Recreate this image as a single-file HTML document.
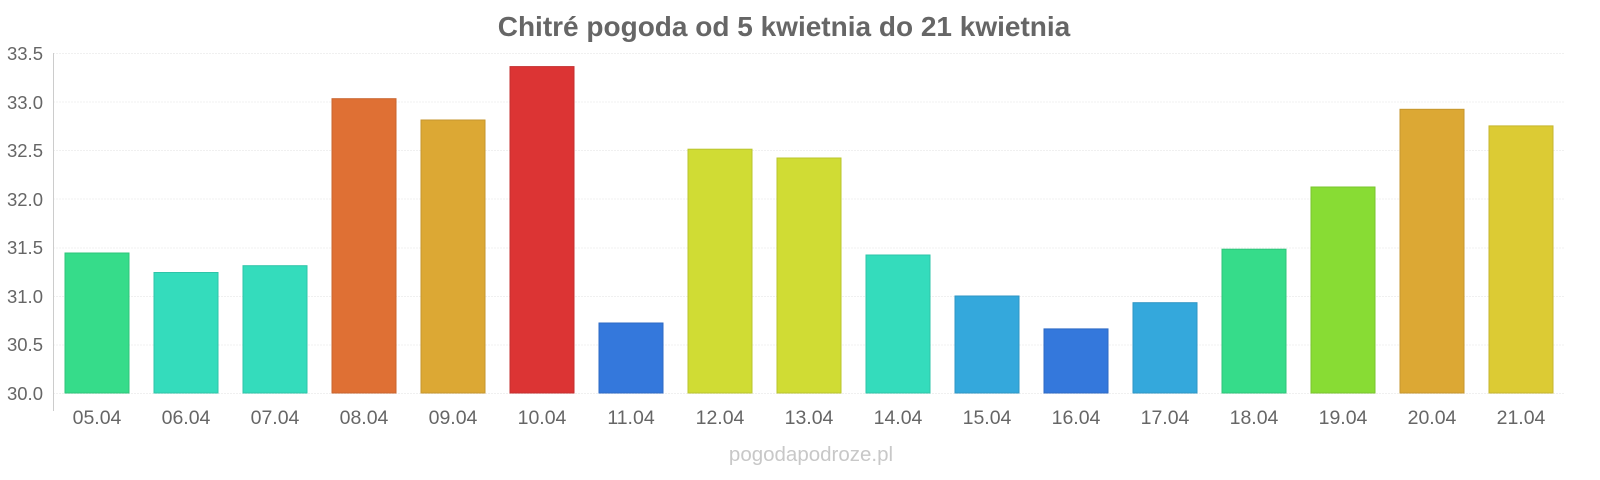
<!DOCTYPE html>
<html><head><meta charset="utf-8"><style>
html,body{margin:0;padding:0;background:#fff;}
svg{display:block;font-family:"Liberation Sans",Arial,sans-serif;}
</style></head><body>
<svg width="1600" height="480" viewBox="0 0 1600 480" xmlns="http://www.w3.org/2000/svg">
<text x="784" y="36" text-anchor="middle" font-size="28" font-weight="bold" fill="#666">Chitré pogoda od 5 kwietnia do 21 kwietnia</text>
<g stroke="#f0f0f0" stroke-width="1" stroke-dasharray="2,1">
<line x1="53" x2="1565" y1="53.5" y2="53.5"/>
<line x1="53" x2="1565" y1="102" y2="102"/>
<line x1="53" x2="1565" y1="150.5" y2="150.5"/>
<line x1="53" x2="1565" y1="199" y2="199"/>
<line x1="53" x2="1565" y1="248" y2="248"/>
<line x1="53" x2="1565" y1="296.5" y2="296.5"/>
<line x1="53" x2="1565" y1="345" y2="345"/>
<line x1="53" x2="1565" y1="393.5" y2="393.5"/>
</g>
<line x1="53.5" x2="53.5" y1="53" y2="411" stroke="#ccc"/>
<g font-size="18.5" fill="#666" text-anchor="end">
<text x="43" y="60">33.5</text>
<text x="43" y="109">33.0</text>
<text x="43" y="157">32.5</text>
<text x="43" y="206">32.0</text>
<text x="43" y="254">31.5</text>
<text x="43" y="303">31.0</text>
<text x="43" y="351">30.5</text>
<text x="43" y="400">30.0</text>
</g>
<g stroke-width="1">
<rect x="65" y="253" width="64" height="140" fill="#36dc8a" stroke="#2fc47a"/>
<rect x="154" y="272.5" width="64" height="120.5" fill="#34dcbc" stroke="#2ec4a8"/>
<rect x="243" y="265.7" width="64" height="127.3" fill="#34dcbc" stroke="#2ec4a8"/>
<rect x="332" y="98.7" width="64" height="294.3" fill="#df7034" stroke="#c9642e"/>
<rect x="421" y="120" width="64" height="273" fill="#dca834" stroke="#c6962e"/>
<rect x="510" y="66.6" width="64" height="326.4" fill="#dc3434" stroke="#c42e2e"/>
<rect x="599" y="323" width="64" height="70" fill="#3478dc" stroke="#2e6ac4"/>
<rect x="688" y="149.2" width="64" height="243.8" fill="#d0dc34" stroke="#bac42e"/>
<rect x="777" y="158" width="64" height="235" fill="#d0dc34" stroke="#bac42e"/>
<rect x="866" y="255" width="64" height="138" fill="#34dcbc" stroke="#2ec4a8"/>
<rect x="955" y="296" width="64" height="97" fill="#34a8dc" stroke="#2e96c4"/>
<rect x="1044" y="328.9" width="64" height="64.1" fill="#3478dc" stroke="#2e6ac4"/>
<rect x="1133" y="302.7" width="64" height="90.3" fill="#34a8dc" stroke="#2e96c4"/>
<rect x="1222" y="249.2" width="64" height="143.8" fill="#36dc8a" stroke="#2fc47a"/>
<rect x="1311" y="187" width="64" height="206" fill="#88dc34" stroke="#7ac42e"/>
<rect x="1400" y="109.3" width="64" height="283.7" fill="#dca834" stroke="#c6962e"/>
<rect x="1489" y="125.9" width="64" height="267.1" fill="#dccb34" stroke="#c6b62e"/>
</g>
<g font-size="19.5" fill="#666" text-anchor="middle">
<text x="97" y="424">05.04</text>
<text x="186" y="424">06.04</text>
<text x="275" y="424">07.04</text>
<text x="364" y="424">08.04</text>
<text x="453" y="424">09.04</text>
<text x="542" y="424">10.04</text>
<text x="631" y="424">11.04</text>
<text x="720" y="424">12.04</text>
<text x="809" y="424">13.04</text>
<text x="898" y="424">14.04</text>
<text x="987" y="424">15.04</text>
<text x="1076" y="424">16.04</text>
<text x="1165" y="424">17.04</text>
<text x="1254" y="424">18.04</text>
<text x="1343" y="424">19.04</text>
<text x="1432" y="424">20.04</text>
<text x="1521" y="424">21.04</text>
</g>
<text x="811" y="461" text-anchor="middle" font-size="20.5" fill="#c8c8c8">pogodapodroze.pl</text>
</svg>
</body></html>
